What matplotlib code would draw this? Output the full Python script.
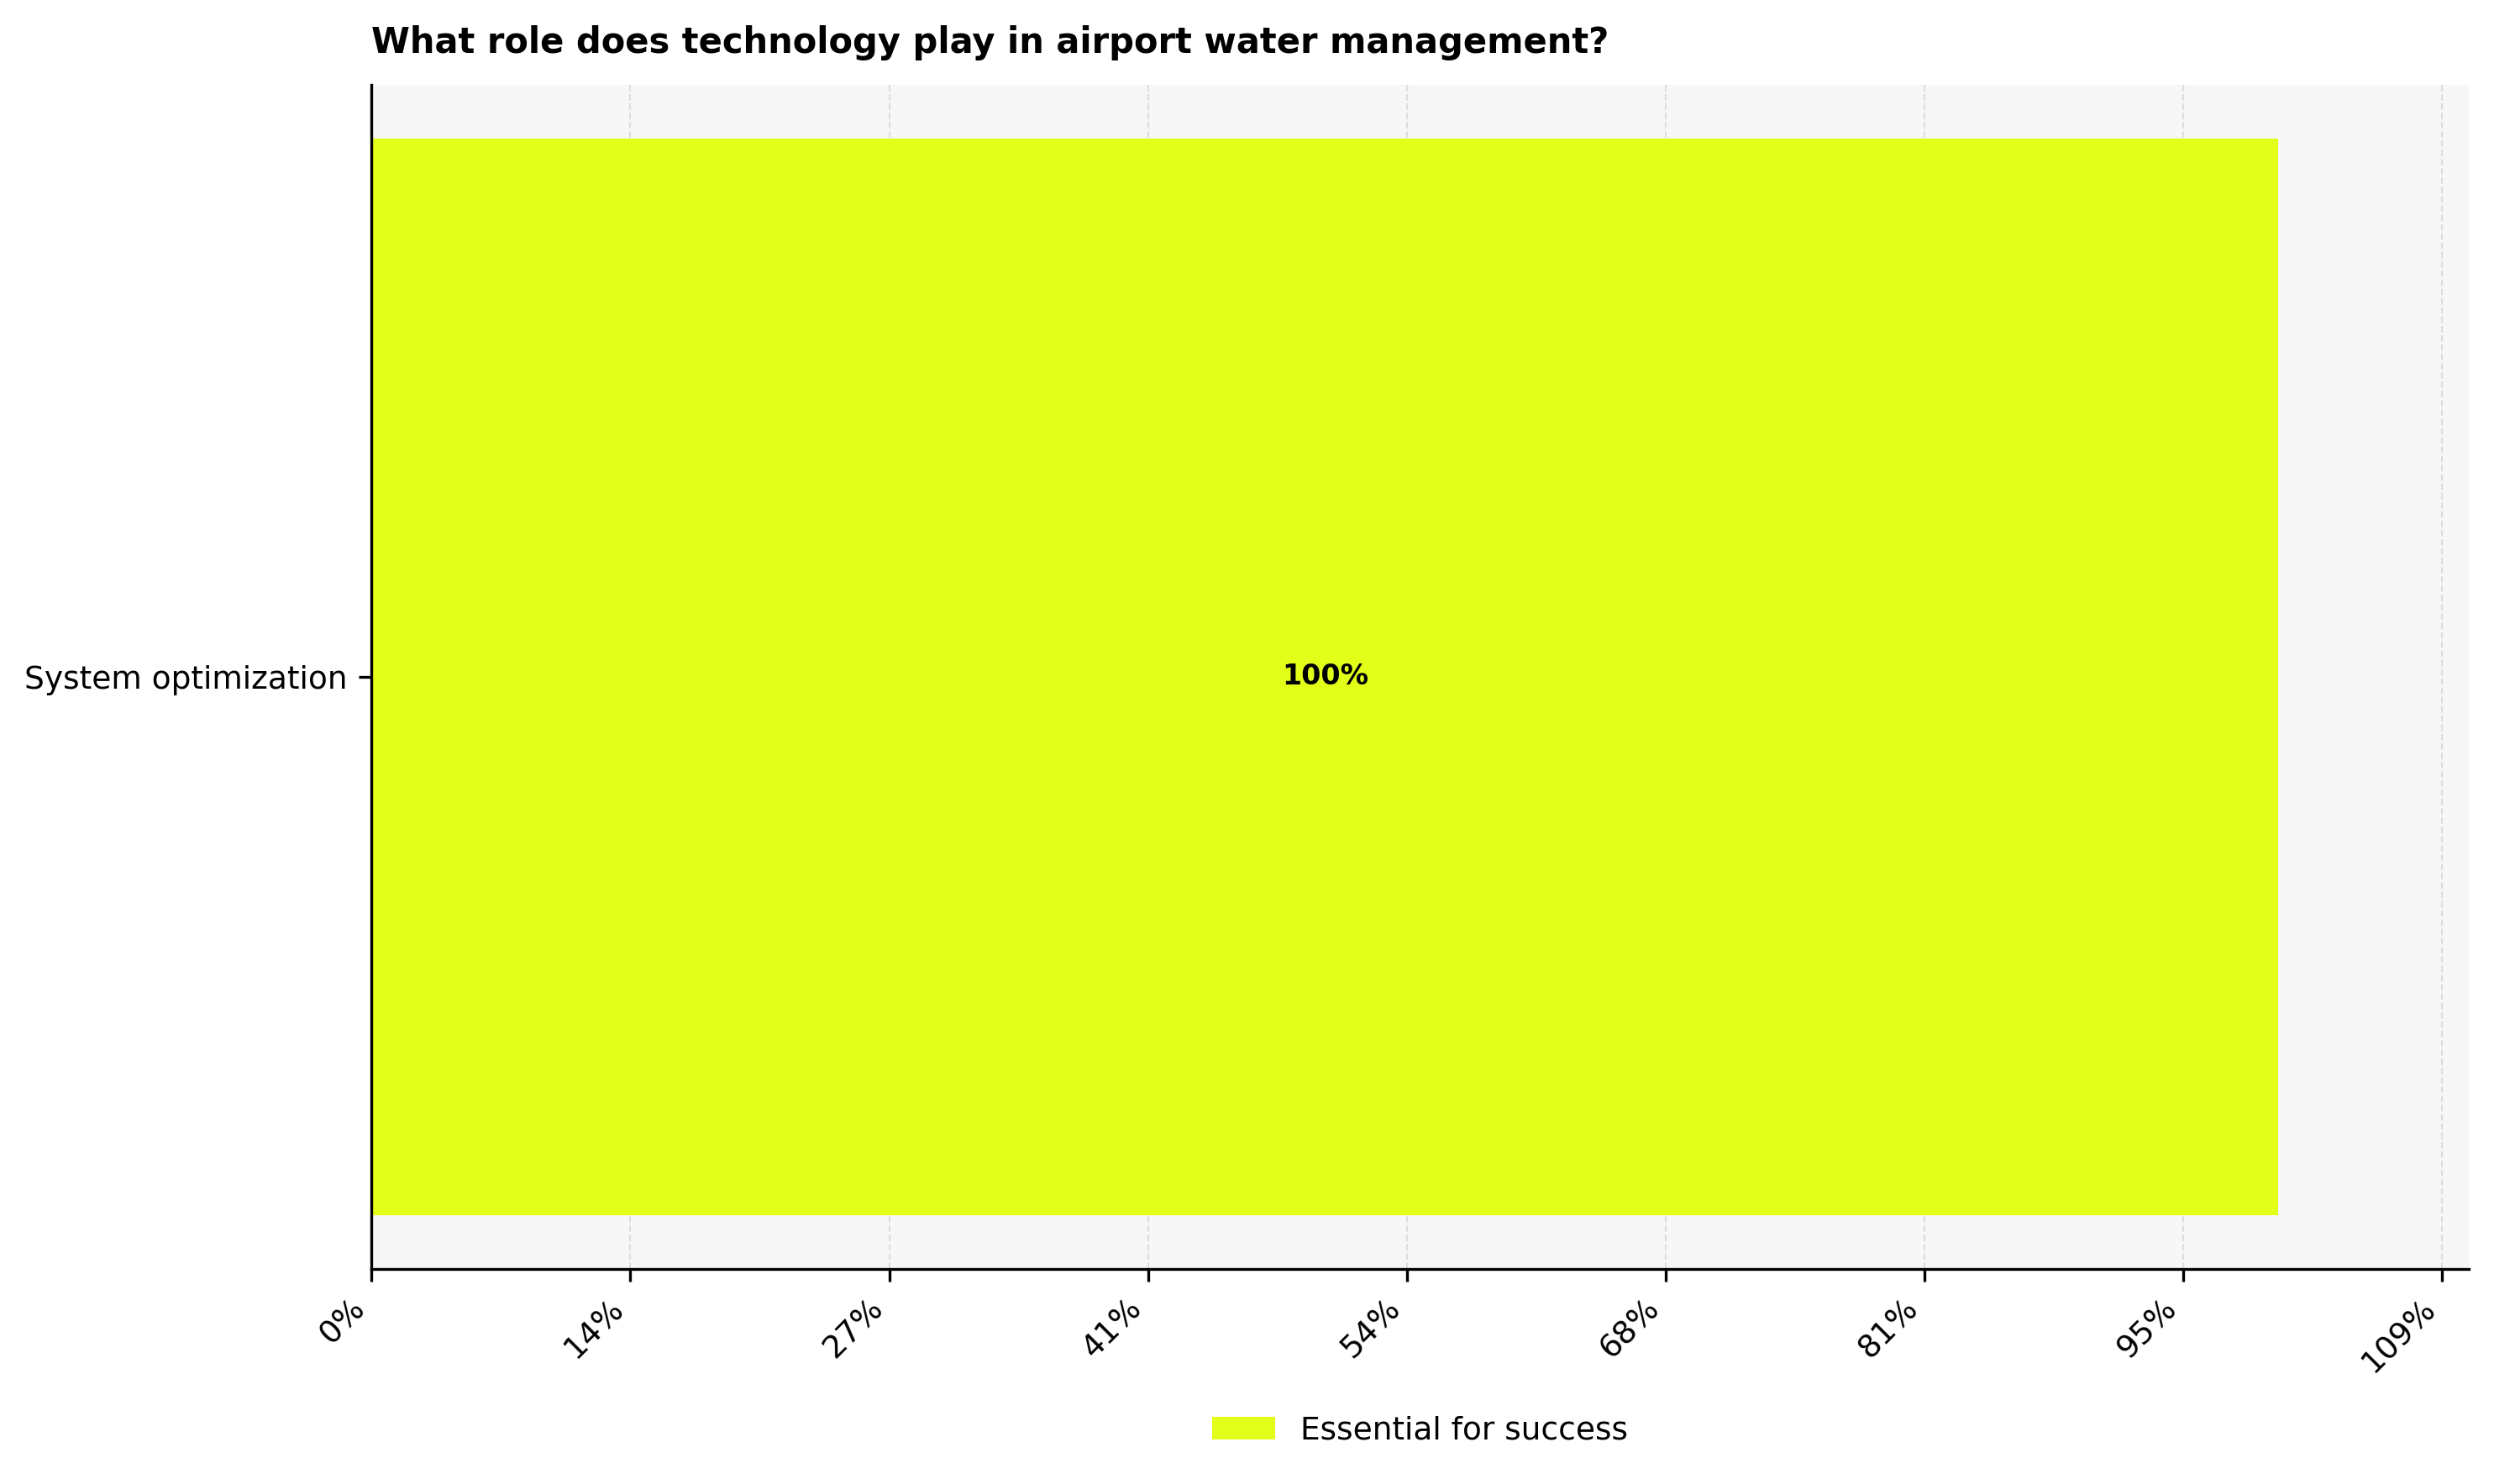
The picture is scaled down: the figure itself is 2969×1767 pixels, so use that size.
import numpy as np
import matplotlib
matplotlib.use("Agg")
import matplotlib.pyplot as plt

title = "What role does technology play in airport water management?"
categories = ["System optimization"]
values = [100]
series_name = "Essential for success"
bar_color = "#e2ff1a"

fig = plt.figure(figsize=(2969 / 300, 1767 / 300), dpi=300)
ax = fig.add_axes([0.149, 0.145, 0.841, 0.798])
ax.set_facecolor("#f7f7f7")

y = np.arange(len(categories))
bars = ax.barh(y, values, height=0.8, color=bar_color, label=series_name, zorder=2)
for b, v in zip(bars, values):
    ax.text(v / 2, b.get_y() + b.get_height() / 2, f"{v:.0f}%",
            ha="center", va="center", fontsize=8, fontweight="bold", zorder=3)

ax.set_yticks(y)
ax.set_yticklabels(categories, fontsize=9)
ax.set_xlim(0, 110)
ticks = np.arange(0, 110, 95 / 7)
ax.set_xticks(ticks)
ax.set_xticklabels([f"{t:.0f}%" for t in ticks], rotation=45, ha="right", fontsize=9)
ax.grid(axis="x", linestyle="--", color="#dddddd", linewidth=0.5, zorder=0)
ax.set_axisbelow(True)
ax.spines["top"].set_visible(False)
ax.spines["right"].set_visible(False)

ax.set_title(title, loc="left", fontsize=10, fontweight="bold", pad=9)
ax.legend(loc="upper center", bbox_to_anchor=(0.5, -0.1), frameon=False, fontsize=9)

fig.savefig("out.png", dpi=300)
